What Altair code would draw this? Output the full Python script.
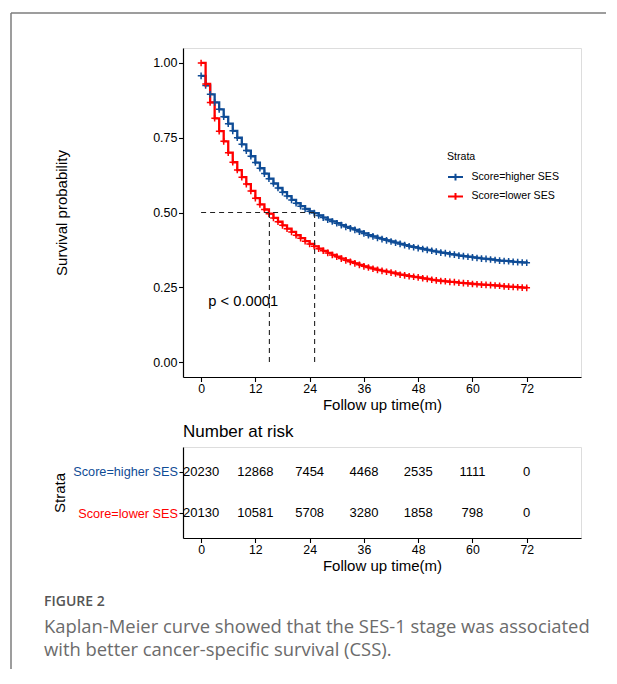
import altair as alt
import pandas as pd

# ---------------- data ----------------
months = list(range(73))
surv_higher = [0.957, 0.925, 0.895, 0.868, 0.845, 0.820, 0.797, 0.773, 0.750, 0.728,
               0.707, 0.688, 0.667, 0.648, 0.630, 0.613, 0.597, 0.582, 0.568, 0.555,
               0.542, 0.531, 0.521, 0.512, 0.504, 0.498, 0.490, 0.483, 0.476, 0.470,
               0.464, 0.458, 0.452, 0.447, 0.442, 0.436, 0.430, 0.424, 0.420, 0.415,
               0.411, 0.407, 0.403, 0.399, 0.395, 0.391, 0.387, 0.384, 0.381, 0.378,
               0.375, 0.372, 0.369, 0.366, 0.364, 0.361, 0.359, 0.356, 0.354, 0.352,
               0.350, 0.348, 0.346, 0.345, 0.343, 0.341, 0.339, 0.338, 0.337, 0.335,
               0.334, 0.333, 0.332]
surv_lower = [1.000, 0.930, 0.868, 0.815, 0.772, 0.738, 0.700, 0.668, 0.642, 0.618,
              0.595, 0.572, 0.548, 0.527, 0.510, 0.496, 0.482, 0.469, 0.457, 0.446,
              0.435, 0.424, 0.414, 0.404, 0.395, 0.387, 0.379, 0.372, 0.365, 0.358,
              0.352, 0.346, 0.340, 0.335, 0.330, 0.325, 0.320, 0.316, 0.312, 0.308,
              0.305, 0.302, 0.299, 0.296, 0.292, 0.290, 0.287, 0.285, 0.283, 0.280,
              0.278, 0.275, 0.273, 0.271, 0.270, 0.268, 0.267, 0.265, 0.264, 0.263,
              0.261, 0.260, 0.259, 0.258, 0.257, 0.256, 0.255, 0.253, 0.252, 0.251,
              0.250, 0.249, 0.248]
strata = ["Score=higher SES", "Score=lower SES"]
colors = ["#0F4C96", "#FF0000"]
median_times = [25.1, 15.1]
median_level = 0.5
risk_times = [0, 12, 24, 36, 48, 60, 72]
risk_higher = [20230, 12868, 7454, 4468, 2535, 1111, 0]
risk_lower = [20130, 10581, 5708, 3280, 1858, 798, 0]
x_ticks = [0, 12, 24, 36, 48, 60, 72]
y_ticks = [0.0, 0.25, 0.50, 0.75, 1.00]
pval_label = ["p < 0.0001"]
pval_x = [1.6]
pval_y = [0.2]
caption_head = "FIGURE 2"
caption_lines = ["Kaplan-Meier curve showed that the SES-1 stage was associated",
                 "with better cancer-specific survival (CSS)."]

FONT = "Liberation Sans"
PLUS = "M-1,0L1,0M0,-1L0,1"

curve_df = pd.concat([
    pd.DataFrame({"time": months, "surv": surv_higher, "strata": strata[0]}),
    pd.DataFrame({"time": months, "surv": surv_lower, "strata": strata[1]}),
])
hline_df = pd.DataFrame({"x": [0], "x2": [max(median_times)], "y": [median_level]})
vline_df = pd.DataFrame({"x": median_times, "y": [0, 0], "y2": [median_level] * 2})
pval_df = pd.DataFrame({"x": pval_x, "y": pval_y, "label": pval_label})
risk_df = pd.concat([
    pd.DataFrame({"time": risk_times, "n": risk_higher, "strata": strata[0]}),
    pd.DataFrame({"time": risk_times, "n": risk_lower, "strata": strata[1]}),
])
dummy = pd.DataFrame({"a": [0]})

W, H_KM, H_RISK = 398, 329, 91
xscale = alt.Scale(domain=[-4, 84], nice=False, zero=False)


def x_axis():
    return alt.Axis(values=x_ticks, title="Follow up time(m)", grid=False,
                    labelFont=FONT, labelFontSize=12.3, labelColor="black",
                    labelPadding=0.5, tickSize=4.5, tickColor="black", tickWidth=1.1,
                    domainColor="black", domainWidth=1.2,
                    titleFont=FONT, titleFontSize=15, titleFontWeight="normal",
                    titleColor="black", titleX=W / 2, titleY=27.5,
                    titleBaseline="middle", titleAlign="center")


color_enc = alt.Color("strata:N", scale=alt.Scale(domain=strata, range=colors),
                      legend=alt.Legend(title="Strata", orient="none", legendX=264, legendY=104,
                                        symbolType="M-1,0L1,0M0,-0.45L0,0.45", symbolSize=225,
                                        symbolStrokeWidth=2, labelFont=FONT, labelFontSize=10.6,
                                        labelColor="black", titleFont=FONT, titleFontSize=10.6,
                                        titleFontWeight="normal", titleColor="black",
                                        labelOffset=7.5, rowPadding=3.3, titlePadding=6,
                                        padding=0))

x_enc = alt.X("time:Q", scale=xscale, axis=x_axis())
y_enc = alt.Y("surv:Q", scale=alt.Scale(domain=[-0.05, 1.05], nice=False, zero=False),
              axis=alt.Axis(values=y_ticks, format=".2f", title="Survival probability",
                            grid=False, labelFont=FONT, labelFontSize=12.5, labelColor="black",
                            labelPadding=1.5, tickSize=4.5, tickColor="black", tickWidth=1.1,
                            domainColor="black", domainWidth=1.2,
                            titleFont=FONT, titleFontSize=15, titleFontWeight="normal",
                            titleColor="black", titleX=-122, titleY=H_KM / 2,
                            titleAngle=270, titleBaseline="middle", titleAlign="center"))

frame_color = "#7d7d7d"
frame_left = alt.Chart(dummy).mark_rule(color=frame_color, strokeWidth=1.5).encode(
    x=alt.value(-172), y=alt.value(-35), y2=alt.value(621))
frame_top = alt.Chart(dummy).mark_rule(color=frame_color, strokeWidth=1.5).encode(
    x=alt.value(-172), x2=alt.value(423), y=alt.value(-35))

lines = alt.Chart(curve_df).mark_line(interpolate="step-after", strokeWidth=2.3).encode(
    x=x_enc, y=y_enc, color=color_enc, order=alt.Order("time:Q"))
censor = alt.Chart(curve_df).mark_point(shape=PLUS, size=44, strokeWidth=1.5,
                                        filled=False, opacity=1).encode(
    x="time:Q", y="surv:Q", color=color_enc)

hline = alt.Chart(hline_df).mark_rule(strokeDash=[5, 4], color="#222", strokeWidth=1.1).encode(
    x="x:Q", x2="x2:Q", y="y:Q")
vline = alt.Chart(vline_df).mark_rule(strokeDash=[5, 4], color="#222", strokeWidth=1.1).encode(
    x="x:Q", y="y:Q", y2="y2:Q")
pval = alt.Chart(pval_df).mark_text(align="left", baseline="middle", font=FONT,
                                    fontSize=14.7, color="black").encode(
    x="x:Q", y="y:Q", text="label:N")

km = alt.layer(frame_left, frame_top, lines, censor, hline, vline, pval).properties(
    width=W, height=H_KM)

# ---------------- risk table ----------------
risk_text = alt.Chart(risk_df).mark_text(font=FONT, fontSize=13, color="black",
                                         baseline="middle").encode(
    x=alt.X("time:Q", scale=xscale, axis=x_axis()),
    y=alt.Y("strata:N", sort=strata, scale=alt.Scale(type="point", padding=0.6),
            axis=alt.Axis(title="Strata", labelFont=FONT, labelFontSize=12.7,
                          labelColor={"condition": {"test": "datum.value == 'Score=higher SES'",
                                                    "value": colors[0]},
                                      "value": colors[1]},
                          labelPadding=1.5, tickSize=4, tickColor="black", tickWidth=1.1,
                          domainColor="black", domainWidth=1.2,
                          titleFont=FONT, titleFontSize=15, titleFontWeight="normal",
                          titleColor="black", titleX=-124, titleY=H_RISK / 2,
                          titleAngle=270, titleBaseline="middle", titleAlign="center")),
    text="n:Q")

cap_head = alt.Chart(pd.DataFrame({"t": [caption_head]})).mark_text(
    align="left", baseline="middle", font="Open Sans", fontSize=14, fontWeight=600,
    color="#555555").encode(x=alt.value(-139), y=alt.value(155.3), text="t:N")
cap1 = alt.Chart(pd.DataFrame({"t": [caption_lines[0]]})).mark_text(
    align="left", baseline="middle", font="Open Sans", fontSize=18.4,
    color="#6b6b6b").encode(x=alt.value(-139), y=alt.value(180.3), text="t:N")
cap2 = alt.Chart(pd.DataFrame({"t": [caption_lines[1]]})).mark_text(
    align="left", baseline="middle", font="Open Sans", fontSize=18.4,
    color="#6b6b6b").encode(x=alt.value(-139), y=alt.value(203.3), text="t:N")

risk = alt.layer(risk_text, cap_head, cap1, cap2).properties(
    width=W, height=H_RISK,
    title=alt.TitleParams("Number at risk", anchor="start", frame="group", font=FONT,
                          fontSize=17, fontWeight="normal", color="black", offset=6))

chart = alt.vconcat(km, risk, spacing=70, bounds="flush").properties(
    padding={"left": 1, "top": 3, "right": 0, "bottom": 0}
).configure_view(stroke=None).configure(background="white")

chart.save("out.html", embed_options={"renderer": "svg", "actions": False})
